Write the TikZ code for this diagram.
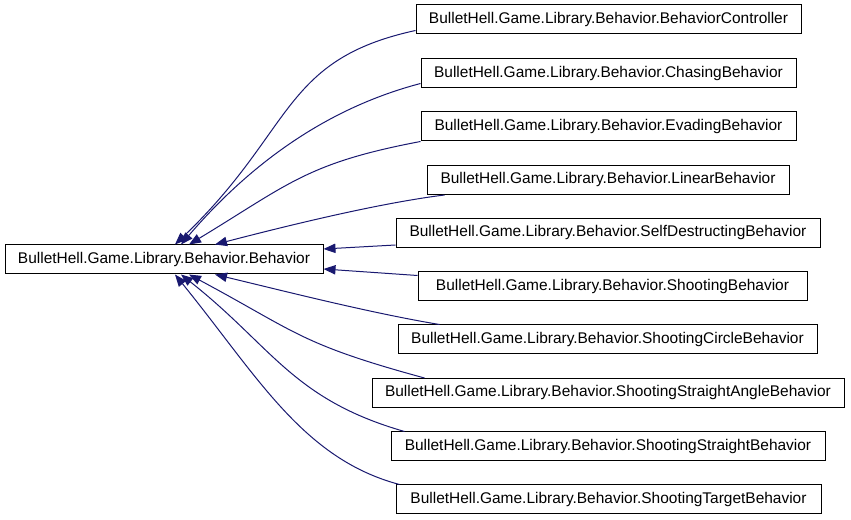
\documentclass[tikz,border=0pt]{standalone}
\usepackage{fontspec}
\setmainfont{Liberation Sans}
\usetikzlibrary{arrows.meta,calc}
\definecolor{edgeblue}{RGB}{25,25,112}
\tikzset{
  cls/.style={draw=black, fill=white, line width=0.75pt, inner sep=0pt,
    minimum height=21.75pt, font=\fontsize{11.6pt}{13pt}\selectfont, text=black},
  inh/.style={draw=edgeblue, line width=0.75pt,
    {Triangle[length=9pt,width=7pt,fill=edgeblue]}-},
}
\begin{document}
\begin{tikzpicture}[x=0.75pt,y=-0.75pt]
\useasboundingbox (0,0) rectangle (851,520);
\node[cls, minimum width=318*0.75pt] (main) at (164,259.5) {BulletHell.Game.Library.Behavior.Behavior};
\node[cls, minimum width=385*0.75pt] (b1) at (608.5,19.5) {BulletHell.Game.Library.Behavior.BehaviorController};
\node[cls, minimum width=375*0.75pt] (b2) at (608.5,73.5) {BulletHell.Game.Library.Behavior.ChasingBehavior};
\node[cls, minimum width=375*0.75pt] (b3) at (608.5,126.5) {BulletHell.Game.Library.Behavior.EvadingBehavior};
\node[cls, minimum width=362*0.75pt] (b4) at (608,180) {BulletHell.Game.Library.Behavior.LinearBehavior};
\node[cls, minimum width=424*0.75pt] (b5) at (608,233) {BulletHell.Game.Library.Behavior.SelfDestructingBehavior};
\node[cls, minimum width=389*0.75pt] (b6) at (612.5,286.5) {BulletHell.Game.Library.Behavior.ShootingBehavior};
\node[cls, minimum width=419*0.75pt] (b7) at (607.5,339.5) {BulletHell.Game.Library.Behavior.ShootingCircleBehavior};
\node[cls, minimum width=472*0.75pt] (b8) at (608,393) {BulletHell.Game.Library.Behavior.ShootingStraightAngleBehavior};
\node[cls, minimum width=434*0.75pt] (b9) at (608,446.5) {BulletHell.Game.Library.Behavior.ShootingStraightBehavior};
\node[cls, minimum width=425*0.75pt] (b10) at (608.5,499.5) {BulletHell.Game.Library.Behavior.ShootingTargetBehavior};

\draw[inh] ($(main.north)+(11,0)$) .. controls (294.5,130.5) and (281,59.7) .. ($(b1.south west)+(0,-4)$);
\draw[inh] ($(main.north)+(17,0)$) .. controls (254,159.5) and (331,107) .. ($(b2.south west)+(0,-5)$);
\draw[inh] ($(main.north)+(25,0)$) .. controls (289,184) and (307,163) .. (b3.south west);
\draw[inh] ($(main.north)+(51,0)$) .. controls (290,225) and (380,203) .. ($(b4.south west)+(18,0)$);
\draw[inh] ($(main.east)+(0,-10.5)$) -- ($(b5.south west)+(0,-3)$);
\draw[inh] ($(main.east)+(0,9.5)$) -- ($(b6.north west)+(0,4)$);
\draw[inh] ($(main.south)+(51,0)$) .. controls (280,290) and (370,313) .. ($(b7.north west)+(42,0)$);
\draw[inh] ($(main.south)+(25,0)$) .. controls (296.2,331.8) and (299.4,344) .. ($(b8.north west)+(53,0)$);
\draw[inh] ($(main.south)+(17,0)$) .. controls (272.3,346.5) and (292.4,399.3) .. ($(b9.north west)+(14,0)$);
\draw[inh] ($(main.south)+(11,0)$) .. controls (257.5,376.2) and (302.8,458.8) .. ($(b10.north west)+(4,0)$);
\end{tikzpicture}
\end{document}
